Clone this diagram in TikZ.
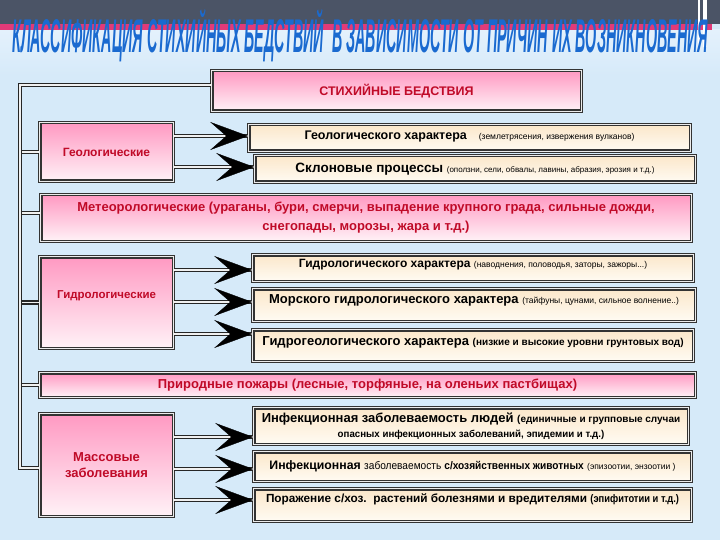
\documentclass[tikz,border=0pt]{standalone}
\usepackage{fontspec}
\setmainfont{Liberation Sans}
\usetikzlibrary{arrows.meta,calc}
\definecolor{bgblue}{HTML}{D6EAF9}
\definecolor{bgtop}{HTML}{E4F1FC}
\definecolor{band}{HTML}{4B5466}
\definecolor{stripe}{HTML}{E23A78}
\definecolor{pinktop}{HTML}{FF99C2}
\definecolor{pinkbot}{HTML}{FFF2F7}
\definecolor{beigetop}{HTML}{FBE7CA}
\definecolor{beigebot}{HTML}{FFFBF3}
\definecolor{redtxt}{HTML}{C00A28}
\definecolor{titleblue}{HTML}{1A6AD0}
\definecolor{frame}{HTML}{333333}
\newcommand\fs[2]{\fontsize{#1}{#2}\selectfont}
\newcommand\cnd[2]{\scalebox{#1}[1]{#2}}
\newcommand\titletext{КЛАССИФИКАЦИЯ СТИХИЙНЫХ БЕДСТВИЙ\ \ В ЗАВИСИМОСТИ ОТ ПРИЧИН ИХ ВОЗНИКНОВЕНИЯ}
\newcommand\arrto[3]{%
  \coordinate (t) at ([yshift=#3pt]#2.west);
  \draw[dbl] (#1.east |- t) -- (t);
  \draw[tipst] ([xshift=-22pt]t) -- (t);
}
\begin{document}
\begin{tikzpicture}[x=1pt,y=-1pt,
  dbl/.style={draw=black!85, line width=1.3pt, double=white!88!gray, double distance=1.6pt},
  tipst/.style={draw=black, fill=black, line width=0.3pt, -{Stealth[length=38pt,width=28pt,inset=16pt]}},
  box/.style={draw=frame, line width=1.1pt, double=white!85!gray, double distance=1.3pt, inner sep=0pt, align=center},
  sz/.style 2 args={minimum width=#1pt, minimum height=#2pt},
  pinkbox/.style={box, top color=pinktop, bottom color=pinkbot, text=redtxt},
  beigebox/.style={box, top color=beigetop, bottom color=beigebot, text=black},
  ttl/.style={inner sep=0pt, anchor=base west}]
\useasboundingbox (0,0) rectangle (720,540);
% background
\fill[bgblue] (0,0) rectangle (720,540);
\shade[top color=bgtop, bottom color=bgblue] (0,30) rectangle (720,75);
\fill[band] (0,0) rectangle (720,24);
\fill[stripe] (0,24) rectangle (712,30);
\fill[white] (698,0) rectangle (700,47);
\fill[white] (703,0) rectangle (707,47);
% title
\node[ttl, text=titleblue] (title) at (12,53) {\resizebox{696pt}{43pt}{\bfseries\itshape\titletext}};
% nodes
\node[pinkbox, sz={369.5}{40.5}, font={\bfseries\fs{12.5}{14}}] (stix) at (396.5,91) {СТИХИЙНЫЕ БЕДСТВИЯ};
\node[pinkbox, sz={133.5}{58.5}, font={\bfseries\fs{12}{14}}] (geo) at (106.5,152) {Геологические};
\node[beigebox, sz={441.5}{26.5}, font={\bfseries\fs{12.5}{14}}] (geoA) at (469.5,138) {\raisebox{2pt}[\height][\depth]{Геологического характера\hspace{12pt}{\mdseries\fs{8.5}{10}(землетрясения, извержения вулканов)}}};
\node[beigebox, sz={440.5}{26.5}, font={\bfseries\fs{13.5}{16}}] (geoB) at (475,169) {Склоновые процессы {\mdseries\fs{8}{10}(оползни, сели, обвалы, лавины, абразия, эрозия и т.д.)}};
\node[pinkbox, sz={650.5}{46.5}, font={\bfseries\fs{13}{19}}] (meteo) at (366,218) {Метеорологические (ураганы, бури, смерчи, выпадение крупного града, сильные дожди,\\ снегопады, морозы, жара и т.д.)};
\node[pinkbox, sz={133.5}{91.5}, font={\bfseries\fs{11.5}{14}}] (hydro) at (106.5,302.5) {\raisebox{7pt}[\height][\depth]{Гидрологические}};
\node[beigebox, sz={440.5}{26.5}, font={\bfseries\fs{12}{14}}] (hydA) at (473,268) {\raisebox{3pt}[\height][\depth]{Гидрологического характера {\mdseries\fs{8.5}{10}(наводнения, половодья, заторы, зажоры...)}}};
\node[beigebox, sz={442.5}{32.5}, font={\bfseries\fs{13}{15}}] (hydB) at (474,305) {\raisebox{5pt}[\height][\depth]{Морского гидрологического характера {\mdseries\fs{8.5}{10}(тайфуны, цунами, сильное волнение..)}}};
\node[beigebox, sz={440.5}{31.5}, font={\bfseries\fs{13}{15}}] (hydC) at (473,345.5) {\raisebox{3pt}[\height][\depth]{Гидрогеологического характера {\fs{10}{12}(низкие и высокие уровни грунтовых вод)}}};
\node[pinkbox, sz={655.5}{24.5}, font={\bfseries\fs{13}{15}}] (fire) at (367.5,385) {Природные пожары (лесные, торфяные, на оленьих пастбищах)};
\node[pinkbox, sz={133.5}{102.5}, font={\bfseries\fs{13}{16}}] (mass) at (106.5,465) {Массовые\\заболевания};
\node[beigebox, sz={434.5}{36.5}, font={\bfseries\fs{13}{14}}] (infA) at (471,426) {Инфекционная заболеваемость людей {\fs{10}{12}(единичные и групповые случаи}\\[1pt]{\fs{10}{12}\cnd{0.97}{опасных инфекционных заболеваний, эпидемии и т.д.)}}};
\node[beigebox, sz={437.5}{29.5}, font={\bfseries\fs{12.3}{15}}] (infB) at (472.5,466.5) {Инфекционная {\fs{11}{13}\cnd{0.92}{\mdseries заболеваемость} \cnd{0.92}{с/хозяйственных животных}} {\fs{8.5}{10}\mdseries(эпизоотии, энзоотии )}};
\node[beigebox, sz={437.5}{32.5}, font={\bfseries\fs{11.8}{14}}] (infC) at (472.5,505) {\raisebox{6pt}[\height][\depth]{Поражение с/хоз.\ \ растений болезнями и вредителями {\fs{11}{13}\cnd{0.85}{(эпифитотии и т.д.)}}}};
% spine and branches
\coordinate (sTop) at (20,85);
\coordinate (sBot) at (20,468);
\coordinate (meteoIn) at ([yshift=5pt]meteo.west);
\draw[dbl] (sTop |- geo.west) -- (geo.west);
\draw[dbl] (sTop |- meteoIn) -- (meteoIn);
\draw[dbl] (sTop |- hydro.west) -- (hydro.west);
\draw[dbl] (sTop |- fire.west) -- (fire.west);
\draw[dbl] (stix.west |- sTop) -- (sTop) -- (sBot) -- (mass.west |- sBot);
% arrows
\arrto{geo}{geoA}{2}
\arrto{geo}{geoB}{2}
\arrto{hydro}{hydA}{-2}
\arrto{hydro}{hydB}{3}
\arrto{hydro}{hydC}{11.5}
\arrto{mass}{infA}{-11}
\arrto{mass}{infB}{-2.5}
\arrto{mass}{infC}{5}
\end{tikzpicture}
\end{document}
